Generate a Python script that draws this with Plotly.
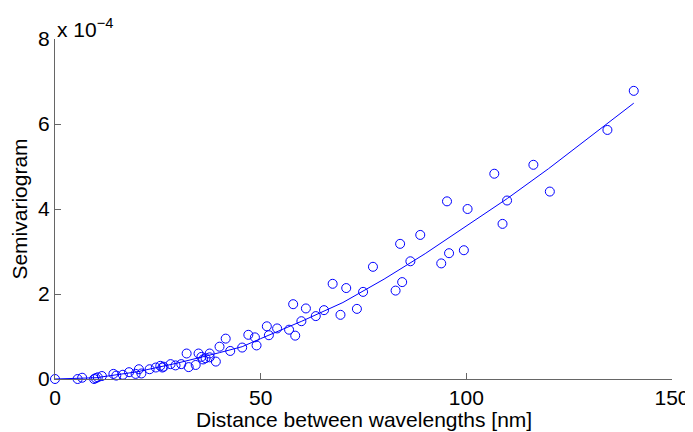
import plotly.graph_objects as go

# Empirical semivariogram points (x: distance in nm, y: semivariance in units of 1e-4)
dist_nm = [0, 5.5, 6.6, 9.5, 9.9, 10.4, 11.4, 14.2, 14.9, 16.5, 18.0, 19.6, 20.4, 21.0,
           23.0, 24.5, 25.6, 26.1, 26.4, 28.1, 29.3, 30.7, 32.0, 32.5, 34.2, 34.9, 35.6,
           36.0, 36.6, 37.6, 37.6, 39.1, 40.0, 41.5, 42.6, 45.5, 47.0, 48.6, 49.0, 51.5,
           52.0, 54.0, 56.9, 57.9, 58.4, 59.9, 61.0, 63.4, 65.4, 67.5, 69.4, 70.8, 73.4,
           74.9, 77.3, 82.8, 83.9, 84.4, 86.4, 88.8, 93.9, 95.3, 95.8, 99.4, 100.3, 106.8,
           108.8, 109.9, 116.3, 120.3, 134.3, 140.7]
semivar_e4 = [0.0, 0.0, 0.03, 0.0, 0.02, 0.04, 0.07, 0.12, 0.08, 0.10, 0.16, 0.12, 0.23, 0.13,
              0.23, 0.27, 0.31, 0.27, 0.29, 0.35, 0.32, 0.35, 0.60, 0.28, 0.33, 0.60, 0.52,
              0.46, 0.49, 0.60, 0.51, 0.41, 0.76, 0.95, 0.66, 0.74, 1.04, 0.98, 0.79, 1.24,
              1.03, 1.19, 1.16, 1.76, 1.02, 1.36, 1.66, 1.48, 1.62, 2.24, 1.51, 2.14, 1.65,
              2.05, 2.64, 2.08, 3.18, 2.28, 2.77, 3.39, 2.72, 4.18, 2.96, 3.03, 4.00, 4.83,
              3.65, 4.20, 5.04, 4.41, 5.86, 6.78]

# Fitted model curve
fit_x = [0, 10, 20, 30, 40, 45.5, 50, 60, 70, 80, 90, 100, 110, 120, 130, 140.7]
fit_y_e4 = [0, 0.03, 0.17, 0.38, 0.62, 0.76, 0.95, 1.36, 1.80, 2.35, 2.95, 3.60, 4.25, 4.95, 5.70, 6.49]

x_ticks = [0, 50, 100, 150]
y_ticks = [0, 2, 4, 6, 8]

BLUE = "rgb(0,0,255)"
FONT = "Liberation Sans, Arial, Helvetica, sans-serif"

fig = go.Figure()
fig.add_trace(go.Scatter(x=fit_x, y=fit_y_e4, mode="lines",
                         line=dict(color=BLUE, width=1), hoverinfo="skip",
                         showlegend=False))
fig.add_trace(go.Scatter(x=dist_nm, y=semivar_e4, mode="markers",
                         marker=dict(symbol="circle-open", size=9, color=BLUE,
                                     line=dict(width=1, color=BLUE)),
                         cliponaxis=False, showlegend=False))

axis_common = dict(showgrid=False, zeroline=False, showline=True, linecolor="#666666",
                   linewidth=1, ticks="inside", ticklen=6, tickcolor="#666666",
                   tickfont=dict(family=FONT, size=21, color="black"), mirror=False,
                   automargin=False)

# The page body adds an 8px offset, so the figure is sized to fill the rest of the window.
fig.update_layout(
    width=685, height=424,
    margin=dict(l=47, r=21, t=31, b=53),
    plot_bgcolor="white", paper_bgcolor="white",
    font=dict(family=FONT, size=21, color="black"),
    xaxis=dict(range=[0, 150], tickvals=x_ticks, ticktext=[str(v) for v in x_ticks],
               **axis_common),
    yaxis=dict(range=[0, 8], tickvals=y_ticks, ticktext=[str(v) for v in y_ticks],
               title=dict(text="Semivariogram", standoff=6,
                          font=dict(family=FONT, size=21)),
               **axis_common),
    annotations=[
        dict(text="x 10<sup>−4</sup>", xref="paper", yref="paper",
             x=0.0, y=1.0, xanchor="left", yanchor="bottom", yshift=-4,
             showarrow=False, font=dict(family=FONT, size=21, color="black")),
        dict(text="Distance between wavelengths [nm]", xref="paper", yref="paper",
             x=0.5, y=0.0, xanchor="center", yanchor="middle", yshift=-40,
             showarrow=False, font=dict(family=FONT, size=21, color="black")),
    ],
)

fig.write_html("out.html")
